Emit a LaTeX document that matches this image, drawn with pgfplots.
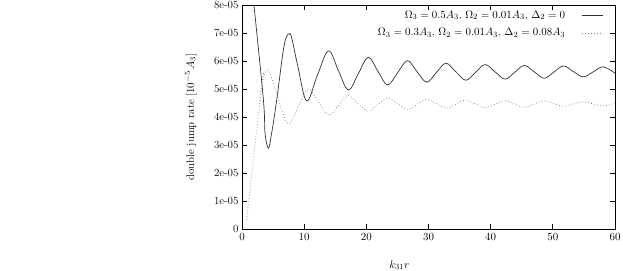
\documentclass[border=0pt]{standalone}
\usepackage{pgfplots}
\usepackage{pgfplotstable}
\pgfplotsset{compat=1.18}
\pgfplotsset{
  mylegline/.style={legend image code/.code={\path (0bp,0bp); \draw[##1] (14bp,0bp) -- (35bp,0bp);}}
}
\pgfplotstableread{
x y
1.00 10.10
1.93 8.00
3.45 4.60
3.70 3.43
4.24 2.89
4.77 3.43
5.58 4.61
6.65 6.40
7.20 6.90
7.56 6.96
7.95 6.88
9.00 5.80
10.40 4.58
12.10 5.48
13.90 6.37
15.50 5.67
17.10 4.97
18.70 5.55
20.30 6.14
21.85 5.65
23.40 5.15
25.00 5.58
26.60 6.02
28.15 5.63
29.70 5.25
31.25 5.59
32.80 5.93
34.40 5.62
36.00 5.32
37.55 5.60
39.10 5.88
40.70 5.62
42.30 5.36
43.85 5.60
45.40 5.85
47.00 5.62
48.60 5.39
50.15 5.61
51.70 5.83
53.30 5.63
54.90 5.44
56.50 5.62
58.10 5.80
60.00 5.57
}\solid
\pgfplotstableread{
x y
0.75 0.32
3.16 5.09
3.60 5.52
4.07 5.69
4.60 5.50
5.76 4.72
7.45 3.76
9.05 4.38
10.67 5.00
12.30 4.54
14.00 4.08
15.55 4.43
17.00 4.78
18.65 4.49
20.30 4.21
21.85 4.45
23.45 4.69
25.05 4.48
26.65 4.28
28.20 4.46
29.70 4.65
31.30 4.48
32.90 4.32
34.45 4.47
36.00 4.61
37.60 4.47
39.20 4.34
40.75 4.47
42.30 4.59
43.85 4.47
45.40 4.35
47.00 4.47
48.60 4.58
50.15 4.48
51.70 4.38
53.30 4.47
54.90 4.55
56.50 4.47
58.10 4.40
60.00 4.50
}\dotted
\begin{document}
\begin{tikzpicture}
\path[use as bounding box] (0bp,0bp) rectangle (623bp,271bp);
\begin{axis}[
  at={(242bp,42bp)}, anchor=south west,
  scale only axis, width=373bp, height=223.7bp,
  xmin=0, xmax=60, ymin=0, ymax=8,
  xtick={0,10,...,60}, ytick={0,1,...,8},
  yticklabels={0,1e-05,2e-05,3e-05,4e-05,5e-05,6e-05,7e-05,8e-05},
  tick align=inside, major tick length=5bp,
  tick style={line width=0.8bp, black},
  axis line style={line width=0.9bp},
  tick label style={font=\fontsize{11}{13}\selectfont},
  label style={font=\fontsize{11}{13}\selectfont},
  xticklabel style={yshift=-1bp},
  xlabel={$k_{31}r$},
  ylabel={double jump rate [$10^{-5}\,A_3$]},
  xlabel style={at={(axis description cs:0.422,0)}, anchor=base, yshift=-39bp},
  ylabel style={at={(axis description cs:-0.137,0.5)}, anchor=center},
  legend style={draw=none, fill=none, at={(rel axis cs:0.976,0.995)}, anchor=north east,
    legend cell align=right, row sep=5bp, font=\fontsize{11}{13}\selectfont},
  legend plot pos=right,
  mylegline,
]
\addplot[smooth, tension=0.6, line width=0.7bp, black!80] table {\solid};
\addlegendentry{$\Omega_3=0.5A_3$, $\Omega_2=0.01A_3$, $\Delta_2=0$}
\addplot[smooth, tension=0.6, line width=0.7bp, black!50, dash pattern=on 0.8bp off 2.2bp] table {\dotted};
\addlegendentry{$\Omega_3=0.3A_3$, $\Omega_2=0.01A_3$, $\Delta_2=0.08A_3$}
\end{axis}
\end{tikzpicture}
\end{document}
